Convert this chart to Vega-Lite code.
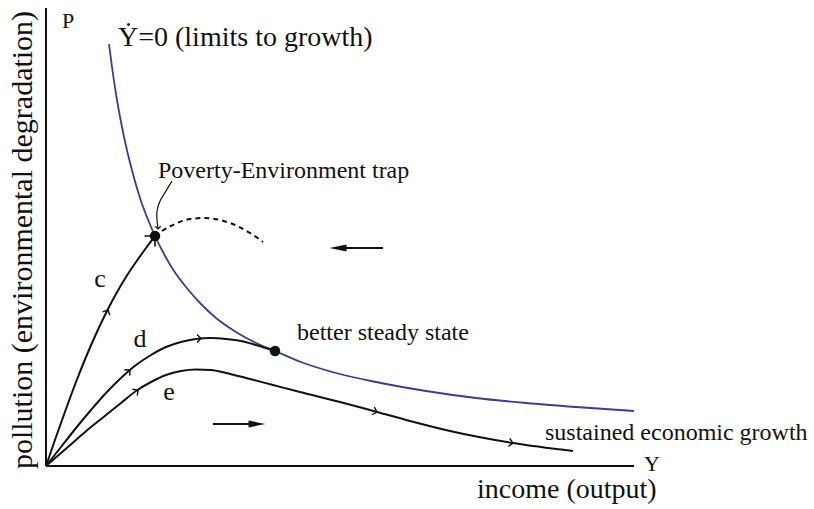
{
  "$schema": "https://vega.github.io/schema/vega-lite/v6.json",
  "width": 600,
  "height": 460,
  "autosize": {"type": "none"},
  "padding": {"left": 46, "top": 6, "right": 168, "bottom": 43},
  "background": "white",
  "config": {"view": {"stroke": null}, "font": "Liberation Serif"},
  "datasets": {
    "axes": [
      {"x": 0, "y": 0, "x2": 588, "y2": 0},
      {"x": 0, "y": 0, "x2": 0, "y2": 458}
    ],
    "blue": [
      {"x": 63, "y": 422}, {"x": 66, "y": 399}, {"x": 70, "y": 372}, {"x": 75, "y": 344},
      {"x": 80, "y": 320}, {"x": 87, "y": 292}, {"x": 95, "y": 265}, {"x": 103, "y": 244},
      {"x": 109, "y": 230}, {"x": 118, "y": 212}, {"x": 128, "y": 195}, {"x": 140, "y": 179},
      {"x": 155, "y": 162}, {"x": 170, "y": 148}, {"x": 190, "y": 134}, {"x": 210, "y": 123},
      {"x": 229, "y": 115}, {"x": 255, "y": 104}, {"x": 290, "y": 93}, {"x": 330, "y": 84},
      {"x": 380, "y": 75}, {"x": 430, "y": 68}, {"x": 480, "y": 63}, {"x": 530, "y": 59},
      {"x": 588, "y": 55}
    ],
    "paths": [
      {"curve": "c", "x": 0, "y": 0}, {"curve": "c", "x": 10, "y": 29}, {"curve": "c", "x": 20, "y": 57},
      {"curve": "c", "x": 30, "y": 84}, {"curve": "c", "x": 40, "y": 109}, {"curve": "c", "x": 50, "y": 132},
      {"curve": "c", "x": 60, "y": 153}, {"curve": "c", "x": 70, "y": 172}, {"curve": "c", "x": 80, "y": 189},
      {"curve": "c", "x": 90, "y": 204}, {"curve": "c", "x": 100, "y": 218}, {"curve": "c", "x": 109, "y": 230},
      {"curve": "d", "x": 0, "y": 0}, {"curve": "d", "x": 15, "y": 19}, {"curve": "d", "x": 30, "y": 38},
      {"curve": "d", "x": 45, "y": 56}, {"curve": "d", "x": 60, "y": 73}, {"curve": "d", "x": 75, "y": 88},
      {"curve": "d", "x": 90, "y": 101}, {"curve": "d", "x": 105, "y": 111}, {"curve": "d", "x": 120, "y": 119},
      {"curve": "d", "x": 135, "y": 124}, {"curve": "d", "x": 150, "y": 127}, {"curve": "d", "x": 165, "y": 128},
      {"curve": "d", "x": 180, "y": 127}, {"curve": "d", "x": 195, "y": 125}, {"curve": "d", "x": 210, "y": 121},
      {"curve": "d", "x": 229, "y": 115},
      {"curve": "e", "x": 0, "y": 0}, {"curve": "e", "x": 15, "y": 13}, {"curve": "e", "x": 30, "y": 26},
      {"curve": "e", "x": 45, "y": 39}, {"curve": "e", "x": 60, "y": 51}, {"curve": "e", "x": 75, "y": 63},
      {"curve": "e", "x": 90, "y": 75}, {"curve": "e", "x": 105, "y": 84}, {"curve": "e", "x": 120, "y": 91},
      {"curve": "e", "x": 135, "y": 95}, {"curve": "e", "x": 150, "y": 96.5}, {"curve": "e", "x": 165, "y": 96},
      {"curve": "e", "x": 180, "y": 93}, {"curve": "e", "x": 200, "y": 88}, {"curve": "e", "x": 227, "y": 81},
      {"curve": "e", "x": 254, "y": 74}, {"curve": "e", "x": 294, "y": 64}, {"curve": "e", "x": 331, "y": 54},
      {"curve": "e", "x": 364, "y": 45}, {"curve": "e", "x": 404, "y": 35}, {"curve": "e", "x": 467, "y": 23},
      {"curve": "e", "x": 527, "y": 15}
    ],
    "dashed": [
      {"x": 116, "y": 235}, {"x": 129, "y": 242}, {"x": 144, "y": 247}, {"x": 159, "y": 248},
      {"x": 174, "y": 246}, {"x": 189, "y": 241}, {"x": 204, "y": 233}, {"x": 217, "y": 224}
    ],
    "leader": [
      {"x": 126, "y": 285}, {"x": 120, "y": 275}, {"x": 114, "y": 265}, {"x": 111, "y": 255},
      {"x": 111, "y": 246}, {"x": 112, "y": 238}
    ],
    "bigArrows": [
      {"x": 292, "y": 218, "x2": 337, "y2": 218},
      {"x": 167, "y": 42, "x2": 211, "y2": 42}
    ],
    "arrowHeads": [
      {"x": 292, "y": 218, "dir": 180},
      {"x": 211, "y": 42, "dir": 0}
    ],
    "chevrons": [
      {"x": 62, "y": 156, "dir": 296},
      {"x": 84, "y": 96, "dir": 318},
      {"x": 155, "y": 127.5, "dir": 0},
      {"x": 92, "y": 76, "dir": 322},
      {"x": 331, "y": 54, "dir": 16},
      {"x": 467, "y": 23, "dir": 9}
    ],
    "trapHead": [{"x": 109, "y": 230, "dir": 315}],
    "leaderHead": [{"x": 112, "y": 237, "dir": 90}],
    "dots": [
      {"x": 109, "y": 230, "name": "Poverty-Environment trap"},
      {"x": 229, "y": 115, "name": "better steady state"}
    ],
    "text28": [
      {"x": 72, "y": 420, "label": "Ẏ=0 (limits to growth)"},
      {"x": 431, "y": -32, "label": "income (output)"}
    ],
    "text24": [
      {"x": 112, "y": 288, "label": "Poverty-Environment trap"},
      {"x": 251, "y": 126, "label": "better steady state"},
      {"x": 499, "y": 26, "label": "sustained economic growth"}
    ],
    "text22": [
      {"x": 16, "y": 438, "label": "P"},
      {"x": 598, "y": -5, "label": "Y"}
    ],
    "letters": [
      {"x": 54, "y": 179, "label": "c"},
      {"x": 94, "y": 119, "label": "d"},
      {"x": 123, "y": 66, "label": "e"}
    ],
    "ylabel": [
      {"x": -14, "y": 226, "label": "pollution (environmental degradation)"}
    ]
  },
  "encoding": {
    "x": {"field": "x", "type": "quantitative", "scale": {"domain": [0, 600], "nice": false, "zero": false}, "axis": null},
    "y": {"field": "y", "type": "quantitative", "scale": {"domain": [0, 460], "nice": false, "zero": false}, "axis": null}
  },
  "layer": [
    {
      "data": {"name": "axes"},
      "mark": {"type": "rule", "color": "#111111", "strokeWidth": 2},
      "encoding": {"x2": {"field": "x2"}, "y2": {"field": "y2"}}
    },
    {
      "data": {"name": "blue"},
      "mark": {"type": "line", "color": "#3b3b98", "strokeWidth": 1.8, "interpolate": "monotone"},
      "encoding": {}
    },
    {
      "data": {"name": "paths"},
      "mark": {"type": "line", "color": "#111111", "strokeWidth": 2, "interpolate": "monotone"},
      "encoding": {"detail": {"field": "curve"}}
    },
    {
      "data": {"name": "dashed"},
      "mark": {"type": "line", "color": "#111111", "strokeWidth": 2, "strokeDash": [5, 4], "interpolate": "monotone"},
      "encoding": {}
    },
    {
      "data": {"name": "leader"},
      "mark": {"type": "line", "color": "#111111", "strokeWidth": 1.2, "interpolate": "catmull-rom"},
      "encoding": {"order": {"value": null}}
    },
    {
      "data": {"name": "bigArrows"},
      "mark": {"type": "rule", "color": "#111111", "strokeWidth": 2},
      "encoding": {"x2": {"field": "x2"}, "y2": {"field": "y2"}}
    },
    {
      "data": {"name": "arrowHeads"},
      "mark": {"type": "point", "shape": "M-1,-0.4L1,0L-1,0.4Z", "filled": true, "color": "#111111", "size": 290, "opacity": 1},
      "encoding": {"angle": {"field": "dir", "type": "quantitative", "scale": null}}
    },
    {
      "data": {"name": "chevrons"},
      "mark": {"type": "point", "shape": "M-1,-1L0,0L-1,1", "filled": false, "color": "#111111", "strokeWidth": 1.4, "size": 64, "opacity": 1},
      "encoding": {"angle": {"field": "dir", "type": "quantitative", "scale": null}}
    },
    {
      "data": {"name": "trapHead"},
      "mark": {"type": "point", "shape": "M-1,-1L0,0L-1,1", "filled": false, "color": "#111111", "strokeWidth": 1.6, "size": 220, "opacity": 1},
      "encoding": {"angle": {"field": "dir", "type": "quantitative", "scale": null}}
    },
    {
      "data": {"name": "leaderHead"},
      "mark": {"type": "point", "shape": "M-1,-1L0,0L-1,1", "filled": false, "color": "#111111", "strokeWidth": 1.2, "size": 30, "opacity": 1},
      "encoding": {"angle": {"field": "dir", "type": "quantitative", "scale": null}}
    },
    {
      "data": {"name": "dots"},
      "mark": {"type": "point", "shape": "circle", "filled": true, "color": "#111111", "size": 110, "opacity": 1},
      "encoding": {}
    },
    {
      "data": {"name": "text28"},
      "mark": {"type": "text", "fontSize": 28, "align": "left", "baseline": "alphabetic", "color": "#111111"},
      "encoding": {"text": {"field": "label"}}
    },
    {
      "data": {"name": "text24"},
      "mark": {"type": "text", "fontSize": 24, "align": "left", "baseline": "alphabetic", "color": "#111111"},
      "encoding": {"text": {"field": "label"}}
    },
    {
      "data": {"name": "text22"},
      "mark": {"type": "text", "fontSize": 22, "align": "left", "baseline": "alphabetic", "color": "#111111"},
      "encoding": {"text": {"field": "label"}}
    },
    {
      "data": {"name": "letters"},
      "mark": {"type": "text", "fontSize": 26, "align": "center", "baseline": "alphabetic", "color": "#111111"},
      "encoding": {"text": {"field": "label"}}
    },
    {
      "data": {"name": "ylabel"},
      "mark": {"type": "text", "fontSize": 30, "align": "center", "baseline": "alphabetic", "angle": 270, "color": "#111111"},
      "encoding": {"text": {"field": "label"}}
    }
  ]
}
